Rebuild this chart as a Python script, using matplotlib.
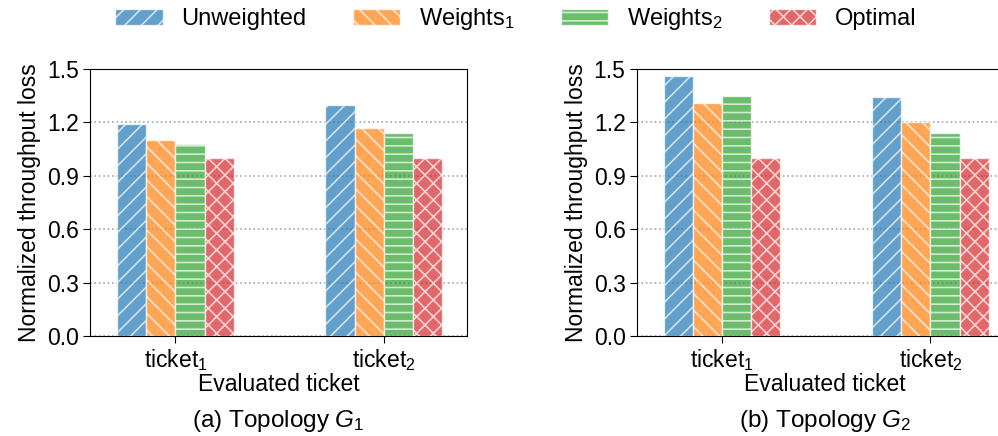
import matplotlib
matplotlib.use("Agg")
import matplotlib.pyplot as plt
import numpy as np

plt.rcParams['font.family'] = ['Liberation Sans', 'DejaVu Sans']
plt.rcParams['mathtext.fontset'] = 'custom'
plt.rcParams['mathtext.rm'] = 'Liberation Sans'
plt.rcParams['mathtext.it'] = 'Liberation Sans:italic'
plt.rcParams['hatch.linewidth'] = 1.2

tickets = ['ticket$_1$', 'ticket$_2$']
series = ['Unweighted', 'Weights$_1$', 'Weights$_2$', 'Optimal']
topo1 = {
    'Unweighted': [1.19, 1.30],
    'Weights$_1$': [1.10, 1.17],
    'Weights$_2$': [1.08, 1.14],
    'Optimal': [1.00, 1.00],
}
topo2 = {
    'Unweighted': [1.46, 1.34],
    'Weights$_1$': [1.31, 1.20],
    'Weights$_2$': [1.35, 1.14],
    'Optimal': [1.00, 1.00],
}
colors = ['tab:blue', 'tab:orange', 'tab:green', 'tab:red']
hatches = ['//', '\\\\', '--', 'xx']
captions = ['(a) Topology $G_1$', '(b) Topology $G_2$']

FS = 16.5
fig = plt.figure(figsize=(9.98, 4.36), dpi=100)
ax1 = fig.add_axes([0.0902, 0.2294, 0.3778, 0.6123])
ax2 = fig.add_axes([0.638, 0.2294, 0.3778, 0.6123])

w = 0.14
x = np.arange(len(tickets))
handles = []
for ax, data, cap in zip([ax1, ax2], [topo1, topo2], captions):
    for i, (s, c, h) in enumerate(zip(series, colors, hatches)):
        bars = ax.bar(x + (i - 1.5) * w, data[s], w, color=c, alpha=0.7,
                      edgecolor='white', hatch=h, linewidth=1.0, label=s, zorder=3)
        if ax is ax1:
            handles.append(bars)
    ax.set_xlim(-0.41, 1.40)
    ax.set_ylim(0, 1.5)
    ax.set_yticks([0.0, 0.3, 0.6, 0.9, 1.2, 1.5])
    ax.set_yticklabels(['0.0', '0.3', '0.6', '0.9', '1.2', '1.5'])
    ax.set_xticks(x)
    ax.set_xticklabels(tickets)
    ax.tick_params(labelsize=FS, length=5, pad=3)
    ax.yaxis.grid(True, linestyle=':', color='gray', alpha=0.7, linewidth=1.2, zorder=0)
    ax.set_axisbelow(True)
    ax.set_ylabel('Normalized throughput loss', fontsize=FS, labelpad=4)
    ax.set_xlabel('Evaluated ticket', fontsize=FS, labelpad=0)
    bb = ax.get_position()
    fig.text((bb.x0 + bb.x1) / 2, 1 - 421 / 436, cap, ha='center', va='center', fontsize=17.5)

fig.legend(handles, series, loc='center', ncol=4, frameon=False,
           fontsize=17, bbox_to_anchor=(0.517, 1 - 19 / 436), columnspacing=1.95,
           handlelength=2.0, handleheight=0.65, handletextpad=0.8)

fig.savefig('out.png', dpi=100)
